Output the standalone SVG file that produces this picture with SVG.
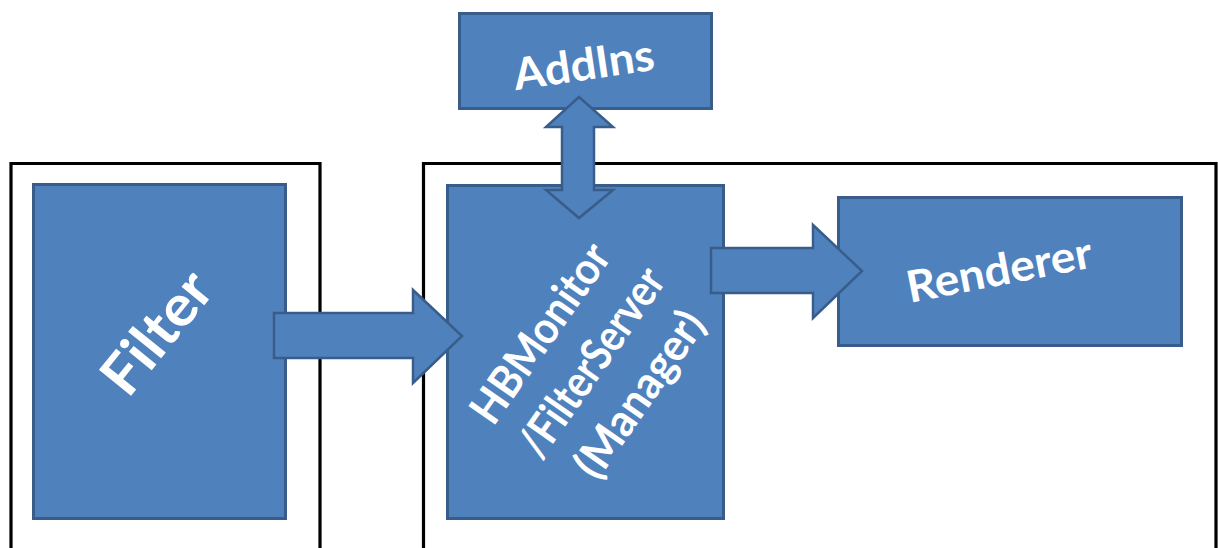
<svg xmlns="http://www.w3.org/2000/svg" width="1218" height="548" viewBox="0 0 1218 548">
<style>
.frame{fill:none;stroke:#000;stroke-width:3.2}
.box{fill:#4F81BD;stroke:#385D8A;stroke-width:3}
.arrow{fill:#4F81BD;stroke:#385D8A;stroke-width:2.5;stroke-linejoin:miter}
.lbl{font-family:Lato,"Open Sans","Liberation Sans",sans-serif;font-weight:bold;fill:#fff;text-anchor:middle}
</style>
<rect width="1218" height="548" fill="#fff"/>
<g id="frames">
<path class="frame" d="M11,560 V163.5 H320 V560"/>
<path class="frame" d="M423.5,560 V163.5 H1216 V560"/>
</g>
<g id="filter">
<rect class="box" x="33.5" y="184.5" width="252" height="334"/>
<text class="lbl" font-size="57" transform="translate(172,345) rotate(-51)" textLength="140" lengthAdjust="spacingAndGlyphs">Filter</text>
</g>
<g id="addins">
<rect class="box" x="459.5" y="13.5" width="252" height="95"/>
<text class="lbl" font-size="44" transform="translate(586,80) rotate(-8.4)" textLength="142" lengthAdjust="spacingAndGlyphs">AddIns</text>
</g>
<g id="hbmonitor">
<rect class="box" x="447.5" y="185.5" width="276" height="333"/>
<text class="lbl" font-size="45" transform="translate(553,342) rotate(-55)" textLength="208" lengthAdjust="spacingAndGlyphs">HBMonitor</text>
<text class="lbl" font-size="45" transform="translate(604,371) rotate(-55)" textLength="220" lengthAdjust="spacingAndGlyphs">/FilterServer</text>
<text class="lbl" font-size="45" transform="translate(652,403) rotate(-55)" textLength="192" lengthAdjust="spacingAndGlyphs">(Manager)</text>
</g>
<g id="renderer">
<rect class="box" x="838.5" y="197.5" width="343" height="148"/>
<text class="lbl" font-size="44" transform="translate(1002,285) rotate(-11)" textLength="188" lengthAdjust="spacingAndGlyphs">Renderer</text>
</g>
<g id="connectors">
<path class="arrow" d="M274,313 H413 V290 L462,336 L413,383 V358 H274 Z"/>
<path class="arrow" d="M711,248 H813 V225 L862,271 L813,318 V293 H711 Z"/>
<path class="arrow" d="M579,97 L613,127 H594 V190 H613 L579,218 L546,190 H562 V127 H546 Z"/>
</g>
</svg>
